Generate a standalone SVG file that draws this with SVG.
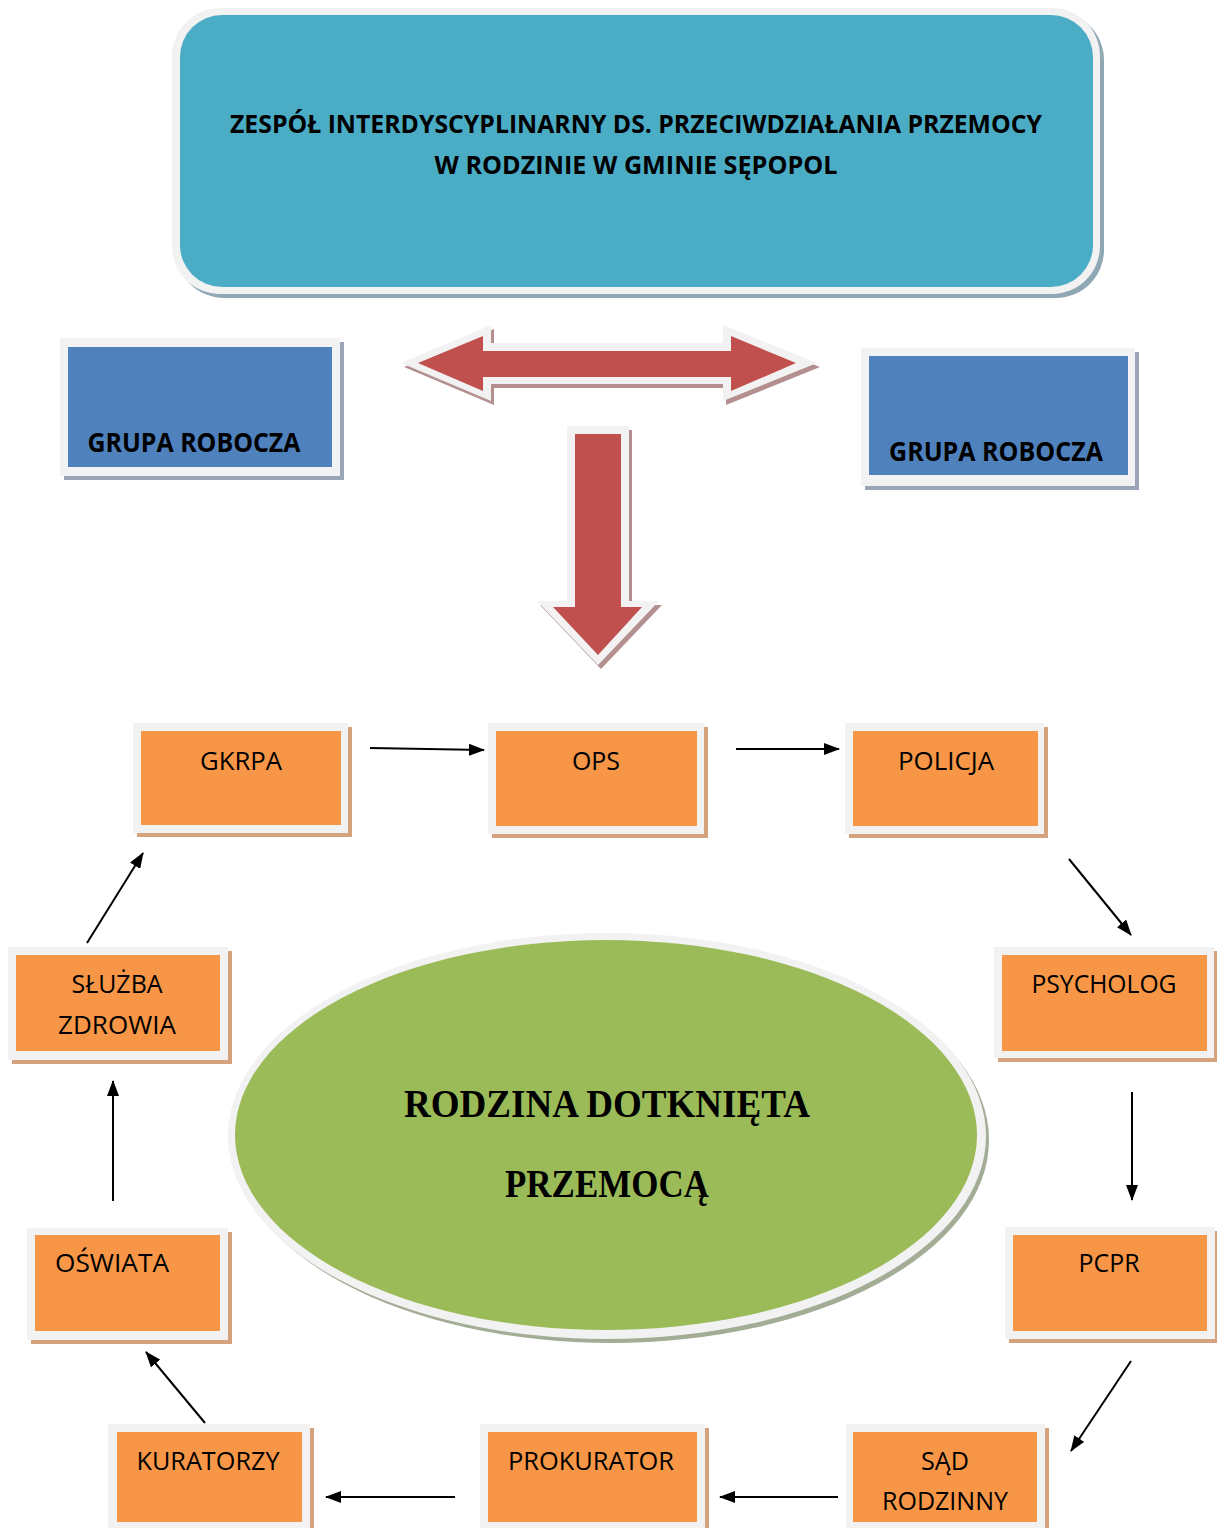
<svg xmlns="http://www.w3.org/2000/svg" width="1217" height="1528" viewBox="0 0 1217 1528">
<style>
.frame{fill:#f2f2f2}
.org{fill:#f79646}
.oshadow{fill:#d4a27c}
.blue{fill:#4f81bd}
.bshadow{fill:#9aa5b8}
.red{fill:#c0504d}
.rshadow{fill:#b48f8f}
.lbl{font-family:"Open Sans","Noto Sans",sans-serif;font-size:25px;fill:#000;text-anchor:middle}
.bold{font-weight:bold}
.big{font-size:27px}
.serif{font-family:"Liberation Serif","Times New Roman",serif;font-weight:bold;font-size:41px;fill:#000;text-anchor:middle}
.conn{stroke:#000;stroke-width:2;fill:none;marker-end:url(#ah)}
</style>
<defs>
<marker id="ah" markerUnits="userSpaceOnUse" markerWidth="16" markerHeight="12" refX="15" refY="6" orient="auto">
<path d="M0,0 L16,6 L0,12 Z" fill="#000"/>
</marker>
</defs>
<rect width="1217" height="1528" fill="#fff"/>

<g id="title">
<rect x="176" y="12" width="928" height="286" rx="48" fill="#8fa8b4"/>
<rect x="172" y="8" width="928" height="286" rx="48" class="frame"/>
<rect x="180" y="15" width="913" height="272" rx="42" fill="#4bacc6"/>
<text class="lbl bold" x="636" y="133" textLength="812" lengthAdjust="spacingAndGlyphs">ZESPÓŁ INTERDYSCYPLINARNY DS. PRZECIWDZIAŁANIA PRZEMOCY</text>
<text class="lbl bold" x="636" y="174" textLength="403" lengthAdjust="spacingAndGlyphs">W RODZINIE W GMINIE SĘPOPOL</text>
</g>

<g id="grupa-left">
<rect x="64" y="342" width="280" height="138" class="bshadow"/>
<rect x="60" y="338" width="280" height="138" class="frame"/>
<rect x="68" y="347" width="264" height="120" class="blue"/>
<text class="lbl bold big" x="194" y="452" textLength="213" lengthAdjust="spacingAndGlyphs">GRUPA ROBOCZA</text>
</g>

<g id="grupa-right">
<rect x="865" y="352" width="274" height="138" class="bshadow"/>
<rect x="861" y="348" width="274" height="138" class="frame"/>
<rect x="869" y="356" width="259" height="119" class="blue"/>
<text class="lbl bold big" x="996" y="461" textLength="214" lengthAdjust="spacingAndGlyphs">GRUPA ROBOCZA</text>
</g>

<g id="double-arrow">
<path transform="translate(3,4)" d="M401,363 L491,325 L491,343 L723,343 L723,325 L817,363 L723,401 L723,384 L491,384 L491,401 Z" class="rshadow"/>
<path d="M401,363 L491,325 L491,343 L723,343 L723,325 L817,363 L723,401 L723,384 L491,384 L491,401 Z" class="frame"/>
<path d="M418,363 L483,336 L483,351 L731,351 L731,336 L796,363 L731,391 L731,377 L483,377 L483,391 Z" class="red"/>
</g>

<g id="down-arrow">
<path transform="translate(3,4)" d="M567,426 L629,426 L629,601 L659,601 L598,665 L537,601 L567,601 Z" class="rshadow"/>
<path d="M567,426 L629,426 L629,601 L659,601 L598,665 L537,601 L567,601 Z" class="frame"/>
<path d="M575,434 L621,434 L621,607 L642,607 L598,655 L553,607 L575,607 Z" class="red"/>
</g>

<g id="rodzina">
<ellipse cx="611" cy="1140" rx="378" ry="203" fill="#a3ad95"/>
<ellipse cx="607" cy="1136" rx="379" ry="203" class="frame"/>
<ellipse cx="606" cy="1135" rx="371" ry="195" fill="#9bbb59"/>
<text class="serif" x="607" y="1117" textLength="406" lengthAdjust="spacingAndGlyphs">RODZINA DOTKNIĘTA</text>
<text class="serif" x="607" y="1197" textLength="204" lengthAdjust="spacingAndGlyphs">PRZEMOCĄ</text>
</g>

<g id="gkrpa">
<rect x="137" y="727" width="215" height="110" class="oshadow"/>
<rect x="133" y="723" width="215" height="110" class="frame"/>
<rect x="141" y="731" width="200" height="94" class="org"/>
<text class="lbl" x="241" y="770" textLength="82" lengthAdjust="spacingAndGlyphs">GKRPA</text>
</g>

<g id="ops">
<rect x="492" y="727" width="216" height="111" class="oshadow"/>
<rect x="488" y="723" width="216" height="111" class="frame"/>
<rect x="496" y="731" width="201" height="95" class="org"/>
<text class="lbl" x="596" y="770" textLength="48" lengthAdjust="spacingAndGlyphs">OPS</text>
</g>

<g id="policja">
<rect x="849" y="727" width="199" height="111" class="oshadow"/>
<rect x="845" y="723" width="199" height="111" class="frame"/>
<rect x="853" y="731" width="185" height="95" class="org"/>
<text class="lbl" x="946" y="770" textLength="96" lengthAdjust="spacingAndGlyphs">POLICJA</text>
</g>

<g id="psycholog">
<rect x="998" y="951" width="220" height="111" class="oshadow"/>
<rect x="994" y="947" width="220" height="111" class="frame"/>
<rect x="1002" y="955" width="205" height="96" class="org"/>
<text class="lbl" x="1104" y="993" textLength="145" lengthAdjust="spacingAndGlyphs">PSYCHOLOG</text>
</g>

<g id="pcpr">
<rect x="1009" y="1231" width="210" height="112" class="oshadow"/>
<rect x="1005" y="1227" width="210" height="112" class="frame"/>
<rect x="1013" y="1235" width="194" height="96" class="org"/>
<text class="lbl" x="1109" y="1272" textLength="61" lengthAdjust="spacingAndGlyphs">PCPR</text>
</g>

<g id="sad">
<rect x="850" y="1428" width="199" height="110" class="oshadow"/>
<rect x="846" y="1424" width="199" height="110" class="frame"/>
<rect x="853" y="1432" width="184" height="90" class="org"/>
<text class="lbl" x="945" y="1470" textLength="48" lengthAdjust="spacingAndGlyphs">SĄD</text>
<text class="lbl" x="945" y="1510" textLength="126" lengthAdjust="spacingAndGlyphs">RODZINNY</text>
</g>

<g id="prokurator">
<rect x="484" y="1428" width="225" height="110" class="oshadow"/>
<rect x="480" y="1424" width="225" height="110" class="frame"/>
<rect x="488" y="1432" width="209" height="90" class="org"/>
<text class="lbl" x="591" y="1470" textLength="166" lengthAdjust="spacingAndGlyphs">PROKURATOR</text>
</g>

<g id="kuratorzy">
<rect x="112" y="1428" width="202" height="110" class="oshadow"/>
<rect x="108" y="1424" width="202" height="110" class="frame"/>
<rect x="117" y="1432" width="185" height="90" class="org"/>
<text class="lbl" x="208" y="1470" textLength="143" lengthAdjust="spacingAndGlyphs">KURATORZY</text>
</g>

<g id="oswiata">
<rect x="31" y="1232" width="201" height="112" class="oshadow"/>
<rect x="27" y="1228" width="201" height="112" class="frame"/>
<rect x="35" y="1235" width="185" height="96" class="org"/>
<text class="lbl" x="112" y="1272" textLength="114" lengthAdjust="spacingAndGlyphs">OŚWIATA</text>
</g>

<g id="sluzba">
<rect x="12" y="951" width="220" height="113" class="oshadow"/>
<rect x="8" y="947" width="220" height="113" class="frame"/>
<rect x="16" y="955" width="204" height="96" class="org"/>
<text class="lbl" x="117" y="993" textLength="91" lengthAdjust="spacingAndGlyphs">SŁUŻBA</text>
<text class="lbl" x="117" y="1034" textLength="118" lengthAdjust="spacingAndGlyphs">ZDROWIA</text>
</g>

<g id="connectors">
<line class="conn" x1="370" y1="748" x2="484" y2="750"/>
<line class="conn" x1="736" y1="749" x2="839" y2="749"/>
<line class="conn" x1="1069" y1="859" x2="1131" y2="935"/>
<line class="conn" x1="1132" y1="1092" x2="1132" y2="1200"/>
<line class="conn" x1="1131" y1="1361" x2="1071" y2="1451"/>
<line class="conn" x1="838" y1="1497" x2="720" y2="1497"/>
<line class="conn" x1="455" y1="1497" x2="326" y2="1497"/>
<line class="conn" x1="205" y1="1423" x2="146" y2="1352"/>
<line class="conn" x1="113" y1="1201" x2="113" y2="1081"/>
<line class="conn" x1="87" y1="943" x2="143" y2="853"/>
</g>
</svg>
